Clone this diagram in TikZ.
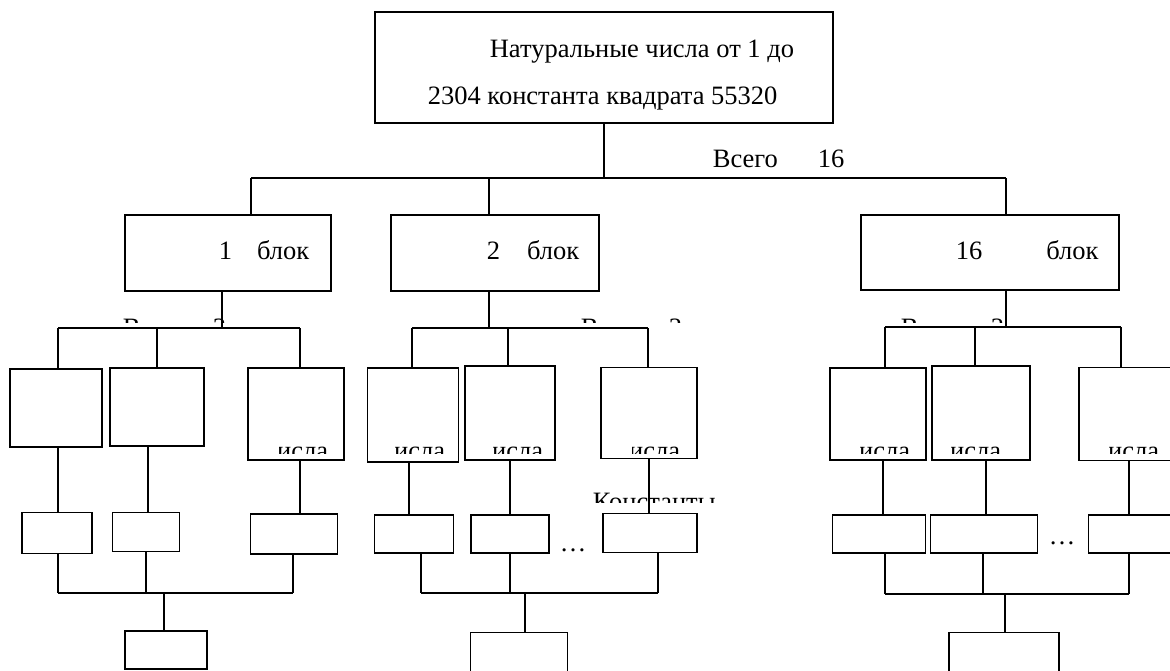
\documentclass[tikz,border=0pt]{standalone}
\usepackage{fontspec}
\setmainfont{Liberation Serif}

\begin{document}
\begin{tikzpicture}[x=1pt,y=-1pt,line width=1.7pt]
	\tikzstyle{box}=[rectangle,draw,inner sep=0pt]
	\tikzstyle{txt}=[inner sep=0pt,anchor=base west,font=\fontsize{26.5}{30}\selectfont]
	\tikzstyle{txtr}=[txt,anchor=base east]
	\useasboundingbox (0,0) rectangle (1170,670);
	% top level
	\node (top)   at (604,67.5)  [box,minimum width=458pt,minimum height=111pt] {};
	\node (top1)  at (489,57)    [txt] {Натуральные числа от 1 до};
	\node (top2)  at (427,104)   [txt] {2304 константа квадрата 55320};
	\node (total) at (712,167)   [txt] {Всего\hspace{40pt}16};
	\node (blk1)  at (228,253)   [box,minimum width=206pt,minimum height=76pt] {};
	\node (blk2)  at (495,253)   [box,minimum width=208pt,minimum height=76pt] {};
	\node (blk16) at (990,252.5) [box,minimum width=258pt,minimum height=75pt] {};
	\node (blk1t)  at (218,259)  [txt] {1\hspace{25pt}блок};
	\node (blk2t)  at (486,259)  [txt] {2\hspace{27pt}блок};
	\node (blk16t) at (955,259)  [txt] {16\hspace{64pt}блок};
	% number boxes
	\node (nums1a) at (56,408)     [box,minimum width=92pt,minimum height=78pt] {};
	\node (nums1b) at (157,407)    [box,minimum width=94pt,minimum height=78pt] {};
	\node (nums1c) at (296,414)    [box,minimum width=96pt,minimum height=92pt] {};
	\node (nums2a) at (413,415)    [box,minimum width=91pt,minimum height=94pt] {};
	\node (nums2b) at (510,413)    [box,minimum width=90pt,minimum height=94pt] {};
	\node (nums2c) at (649,413)    [box,minimum width=96pt,minimum height=91pt] {};
	\node (nums3a) at (878,414)    [box,minimum width=96pt,minimum height=92pt] {};
	\node (nums3b) at (981,413)    [box,minimum width=98pt,minimum height=94pt] {};
	\node (nums3c) at (1140,414)   [box,minimum width=122pt,minimum height=93pt] {};
	% constant boxes
	\node (const1a) at (57,533)    [box,minimum width=70pt,minimum height=41pt] {};
	\node (const1b) at (146,532)   [box,minimum width=67pt,minimum height=39pt] {};
	\node (const1c) at (294,534)   [box,minimum width=87pt,minimum height=40pt] {};
	\node (const2a) at (414,534)   [box,minimum width=79pt,minimum height=38pt] {};
	\node (const2b) at (510,534)   [box,minimum width=78pt,minimum height=38pt] {};
	\node (const2c) at (650,533)   [box,minimum width=94pt,minimum height=39pt] {};
	\node (const3a) at (879,534)   [box,minimum width=93pt,minimum height=38pt] {};
	\node (const3b) at (984,534)   [box,minimum width=107pt,minimum height=38pt] {};
	\node (const3c) at (1144,534)  [box,minimum width=111pt,minimum height=38pt] {};
	\node (dots2) at (559,551.5)  [txt] {…};
	\node (dots3) at (1048,544.5) [txt] {…};
	% result boxes
	\node (res1) at (166,650)   [box,minimum width=82pt,minimum height=38pt] {};
	\node (res2) at (519,666)   [box,minimum width=97pt,minimum height=67pt] {};
	\node (res3) at (1004,666)  [box,minimum width=110pt,minimum height=67pt] {};
	% cut texts
	\begin{scope}
		\clip (0,300) rectangle (1170,322);
		\node (all1) at (122,336) [txt] {Всего\hspace{25pt}3};
		\node (all2) at (580,336) [txt] {Всего\hspace{23pt}3};
		\node (all3) at (900,336) [txt] {Всего\hspace{25pt}3};
	\end{scope}
	\begin{scope}
		\clip (279,440) rectangle (331,453) (395,440) rectangle (448,453)
			(493,440) rectangle (546,453) (632,440) rectangle (683,453)
			(860,440) rectangle (913,453) (951,440) rectangle (1004,453)
			(1109,440) rectangle (1162,453);
		\node (word1c) at (329,459)  [txtr] {числа};
		\node (word2a) at (446,459)  [txtr] {числа};
		\node (word2b) at (544,459)  [txtr] {числа};
		\node (word2c) at (681,459)  [txtr] {числа};
		\node (word3a) at (911,459)  [txtr] {числа};
		\node (word3b) at (1002,459) [txtr] {числа};
		\node (word3c) at (1160,459) [txtr] {числа};
	\end{scope}
	\begin{scope}
		\clip (585,480) rectangle (720,502);
		\node (consts) at (592,510) [txt] {Константы};
	\end{scope}
	% joints
	\path (604,178) coordinate (hub) (251,178) coordinate (b1) (489,178) coordinate (b2) (1006,178) coordinate (b16);
	\path (222,328) coordinate (g1) (58,328) coordinate (g1a) (157,328) coordinate (g1b) (300,328) coordinate (g1c);
	\path (489,328) coordinate (g2) (412,328) coordinate (g2a) (508,328) coordinate (g2b) (648,328) coordinate (g2c);
	\path (1006,327) coordinate (g3) (885,327) coordinate (g3a) (975,327) coordinate (g3b) (1121,327) coordinate (g3c);
	\path (58,0) coordinate (m1a) (148,0) coordinate (m1b) (300,0) coordinate (m1c);
	\path (409,0) coordinate (m2a) (510,0) coordinate (m2b) (649,0) coordinate (m2c);
	\path (883,0) coordinate (m3a) (986,0) coordinate (m3b) (1129,0) coordinate (m3c);
	\path (58,593) coordinate (h1a) (146,593) coordinate (h1b) (293,593) coordinate (h1c) (164,593) coordinate (s1);
	\path (421,593) coordinate (h2a) (510,593) coordinate (h2b) (658,593) coordinate (h2c) (525,593) coordinate (s2);
	\path (885,594) coordinate (h3a) (983,594) coordinate (h3b) (1129,594) coordinate (h3c) (1005,594) coordinate (s3);
	% lines
	\draw (top) -- (hub);
	\draw (b1) -- (b16);
	\draw (b1) -- (b1 |- blk1.north);
	\draw (b2) -- (b2 |- blk2.north);
	\draw (b16) -- (b16 |- blk16.north);
	\draw (g1 |- blk1.south) -- (g1);
	\draw (g2 |- blk2.south) -- (g2);
	\draw (g3 |- blk16.south) -- (g3);
	\draw (g1a) -- (g1c);
	\draw (g2a) -- (g2c);
	\draw (g3a) -- (g3c);
	\draw (g1a) -- (g1a |- nums1a.north);
	\draw (g1b) -- (g1b |- nums1b.north);
	\draw (g1c) -- (g1c |- nums1c.north);
	\draw (g2a) -- (g2a |- nums2a.north);
	\draw (g2b) -- (g2b |- nums2b.north);
	\draw (g2c) -- (g2c |- nums2c.north);
	\draw (g3a) -- (g3a |- nums3a.north);
	\draw (g3b) -- (g3b |- nums3b.north);
	\draw (g3c) -- (g3c |- nums3c.north);
	\draw (m1a |- nums1a.south) -- (m1a |- const1a.north);
	\draw (m1b |- nums1b.south) -- (m1b |- const1b.north);
	\draw (m1c |- nums1c.south) -- (m1c |- const1c.north);
	\draw (m2a |- nums2a.south) -- (m2a |- const2a.north);
	\draw (m2b |- nums2b.south) -- (m2b |- const2b.north);
	\draw (m2c |- nums2c.south) -- (m2c |- const2c.north);
	\draw (m3a |- nums3a.south) -- (m3a |- const3a.north);
	\draw (m3b |- nums3b.south) -- (m3b |- const3b.north);
	\draw (m3c |- nums3c.south) -- (m3c |- const3c.north);
	\draw (h1a |- const1a.south) -- (h1a);
	\draw (h1b |- const1b.south) -- (h1b);
	\draw (h1c |- const1c.south) -- (h1c);
	\draw (h2a |- const2a.south) -- (h2a);
	\draw (h2b |- const2b.south) -- (h2b);
	\draw (h2c |- const2c.south) -- (h2c);
	\draw (h3a |- const3a.south) -- (h3a);
	\draw (h3b |- const3b.south) -- (h3b);
	\draw (h3c |- const3c.south) -- (h3c);
	\draw (h1a) -- (h1c);
	\draw (h2a) -- (h2c);
	\draw (h3a) -- (h3c);
	\draw (s1) -- (s1 |- res1.north);
	\draw (s2) -- (s2 |- res2.north);
	\draw (s3) -- (s3 |- res3.north);
\end{tikzpicture}
\end{document}
